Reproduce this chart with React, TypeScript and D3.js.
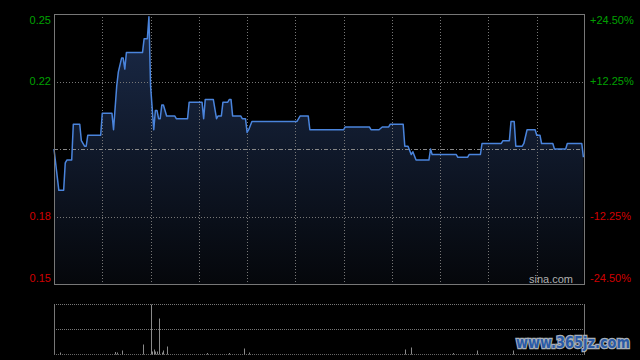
import React from "react";
import * as d3 from "d3";

// ---- data ----
const times = [
  0, 3, 6, 7, 8, 11, 12, 16, 17, 19,
  20, 21, 29, 30, 36, 37, 39, 40, 42, 43,
  44, 45, 55, 56, 58, 59, 60, 62, 63, 64,
  65, 66, 67, 68, 70, 75, 76, 83, 84, 92,
  93, 94, 99, 101, 102, 104, 105, 108, 109, 110,
  111, 116, 117, 119, 120, 121, 123, 151, 153, 158,
  159, 180, 181, 196, 197, 202, 204, 208, 209, 217,
  218, 220, 222, 223, 225, 233, 234, 235, 250, 251,
  257, 258, 265, 266, 278, 279, 283, 284, 286, 287,
  291, 292, 294, 299, 300, 302, 303, 310, 311, 318,
  319, 328, 329,
];
const prices = [
  0.2, 0.185, 0.185, 0.195, 0.196, 0.196, 0.209, 0.209, 0.203, 0.201,
  0.201, 0.205, 0.205, 0.213, 0.213, 0.207, 0.223, 0.228, 0.233, 0.233,
  0.229, 0.235, 0.235, 0.24, 0.24, 0.248, 0.223, 0.207, 0.214, 0.214,
  0.211, 0.211, 0.216, 0.216, 0.212, 0.212, 0.211, 0.211, 0.217, 0.217,
  0.211, 0.218, 0.218, 0.211, 0.212, 0.212, 0.217, 0.217, 0.218, 0.218,
  0.212, 0.212, 0.211, 0.211, 0.206, 0.207, 0.21, 0.21, 0.212, 0.212,
  0.207, 0.207, 0.208, 0.208, 0.207, 0.207, 0.208, 0.208, 0.209, 0.209,
  0.201, 0.201, 0.198, 0.199, 0.196, 0.196, 0.2, 0.198, 0.198, 0.197,
  0.197, 0.198, 0.198, 0.202, 0.202, 0.203, 0.203, 0.21, 0.21, 0.201,
  0.201, 0.202, 0.207, 0.207, 0.205, 0.205, 0.202, 0.202, 0.2, 0.2,
  0.202, 0.202, 0.197,
];
const prevClose = 0.2;
const leftTicks = ["0.25", "0.22", "", "0.18", "0.15"];
const rightTicks = ["+24.50%", "+12.25%", "", "-12.25%", "-24.50%"];
const volTimes = [4, 38, 39, 42, 55, 60, 61, 62, 63, 64, 65, 67, 68, 70, 95, 109, 118, 121, 218, 222, 248, 263, 285];
const volValues = [2, 2.5, 2, 4, 10, 50, 3, 5, 3, 3, 36, 2, 4, 8, 1.5, 1.5, 6, 2, 5, 7, 1.5, 4, 4];

// ---- layout ----
const L = 54, R = 585, T = 14, B = 284;
const VT = 304.5, VB = 354.5;
const totalMin = 330;

export default function App() {
  const x = d3.scaleLinear().domain([0, totalMin]).range([L, R]);
  const y = d3.scaleLinear().domain([prevClose * (1 - 0.245), prevClose * (1 + 0.245)]).range([B, T]);
  const vy = d3.scaleLinear().domain([0, d3.max(volValues) as number]).range([VB, VT]);
  const pts = times.map((t, i) => [t, prices[i]] as [number, number]);
  const line = d3.line<[number, number]>().x((d) => x(d[0])).y((d) => y(d[1]))(pts) || "";
  const area = d3.area<[number, number]>().x((d) => x(d[0])).y0(B).y1((d) => y(d[1]))(pts) || "";
  const hLines = [0, 1, 2, 3, 4].map((i) => T + ((B - T) * i) / 4);
  const vLines = d3.range(1, 11).map((i) => x((totalMin / 11) * i));
  const font = "'Liberation Sans', Arial, sans-serif";
  return (
    <svg width={640} height={360} style={{ position: "fixed", left: 0, top: 0, display: "block" }}>
      <defs>
        <linearGradient id="fill" x1="0" y1={T} x2="0" y2={B} gradientUnits="userSpaceOnUse">
          <stop offset="0" stopColor="#1b2b4a" />
          <stop offset="1" stopColor="#05070b" />
        </linearGradient>
      </defs>
      <rect width={640} height={360} fill="#000" />
      <path d={area} fill="url(#fill)" />
      {hLines.slice(1, 4).map((yy, i) =>
        i === 1 ? (
          <line key={i} x1={L} x2={R} y1={Math.round(yy) + 0.5} y2={Math.round(yy) + 0.5} stroke="#888" strokeDasharray="4,2,1,2" />
        ) : (
          <line key={i} x1={L} x2={R} y1={Math.round(yy) + 0.5} y2={Math.round(yy) + 0.5} stroke="#777" strokeDasharray="1,2" />
        )
      )}
      {vLines.map((xx, i) => (
        <line key={i} x1={Math.round(xx) + 0.5} x2={Math.round(xx) + 0.5} y1={T} y2={B} stroke="#777" strokeDasharray="1,2" />
      ))}
      <path d={line} fill="none" stroke="#4a84dc" strokeWidth={1.5} strokeLinejoin="round" />
      <rect x={L + 0.5} y={T + 0.5} width={R - L - 1} height={B - T} fill="none" stroke="#777" />
      {leftTicks.map((t, i) =>
        t ? (
          <text key={i} x={51} y={hLines[i] + (i === 0 ? 6 : i === 4 ? -6 : 0)} dy="0.35em" textAnchor="end" fontFamily={font} fontSize={11} fill={i < 2 ? "#00a000" : "#d00000"}>
            {t}
          </text>
        ) : null
      )}
      {rightTicks.map((t, i) =>
        t ? (
          <text key={i} x={590} y={hLines[i] + (i === 0 ? 6 : i === 4 ? -6 : 0)} dy="0.35em" textAnchor="start" fontFamily={font} fontSize={11} fill={i < 2 ? "#00a000" : "#d00000"}>
            {t}
          </text>
        ) : null
      )}
      <text x={573} y={279} dy="0.35em" textAnchor="end" fontFamily={font} fontSize={11} fill="#b0b0b0">sina.com</text>
      {/* volume pane */}
      <line x1={L} x2={R} y1={VT} y2={VT} stroke="#777" strokeDasharray="1,1" />
      <line x1={L} x2={R} y1={(VT + VB) / 2} y2={(VT + VB) / 2} stroke="#777" strokeDasharray="1,1" />
      <line x1={L} x2={R} y1={VB} y2={VB} stroke="#666" strokeDasharray="1,1" />
      <line x1={L + 0.5} x2={L + 0.5} y1={VT} y2={VB} stroke="#777" />
      <line x1={R - 0.5} x2={R - 0.5} y1={VT} y2={VB} stroke="#777" />
      {volTimes.map((t, i) => (
        <rect key={i} x={Math.round(x(t))} y={vy(volValues[i])} width={1} height={VB - vy(volValues[i])} fill="#8a8a8a" />
      ))}
      <text x={516} y={348} fontFamily="'DejaVu Sans', sans-serif" fontWeight="bold" fontSize={15} textLength={114} lengthAdjust="spacingAndGlyphs" fill="#2a5aa6" stroke="#a8b0b8" strokeWidth={2.5} style={{ paintOrder: "stroke" }}>
        www.365jz.com
      </text>
    </svg>
  );
}
